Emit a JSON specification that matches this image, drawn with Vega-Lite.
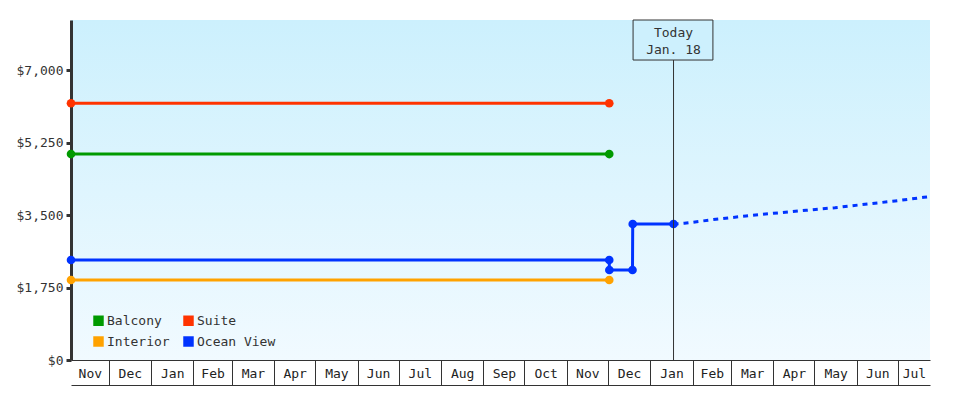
{
  "$schema": "https://vega.github.io/schema/vega-lite/v6.json",
  "width": 859,
  "height": 340,
  "autosize": {"type": "none"},
  "padding": {"left": 71, "top": 20, "right": 50, "bottom": 40},
  "background": "#ffffff",
  "config": {
    "view": {
      "stroke": null,
      "fill": {"gradient": "linear", "x1": 0, "y1": 0, "x2": 0, "y2": 1, "stops": [{"offset": 0, "color": "#ccf0fd"}, {"offset": 1, "color": "#f1faff"}]}
    },
    "font": "DejaVu Sans Mono",
    "axis": {"labelFont": "DejaVu Sans Mono", "labelFontSize": 13, "labelColor": "#333333", "grid": false},
    "legend": {
      "title": null, "orient": "none", "legendX": 21, "legendY": 294,
      "columns": 2, "direction": "horizontal", "padding": 0,
      "symbolType": "square", "symbolSize": 110, "symbolStrokeWidth": 0, "symbolOpacity": 1,
      "labelFont": "DejaVu Sans Mono", "labelFontSize": 13, "labelColor": "#333333", "labelOffset": 2,
      "rowPadding": 7, "columnPadding": 12, "symbolOffset": 0
    }
  },
  "datasets": {
    "prices": [
      {"series": "Suite", "date": "2017-11-03T12:00:00Z", "price": 6198},
      {"series": "Suite", "date": "2018-12-02T00:00:00Z", "price": 6198},
      {"series": "Balcony", "date": "2017-11-03T12:00:00Z", "price": 4971},
      {"series": "Balcony", "date": "2018-12-02T00:00:00Z", "price": 4971},
      {"series": "Interior", "date": "2017-11-03T12:00:00Z", "price": 1931},
      {"series": "Interior", "date": "2018-12-02T00:00:00Z", "price": 1931},
      {"series": "Ocean View", "date": "2017-11-03T12:00:00Z", "price": 2413},
      {"series": "Ocean View", "date": "2018-12-02T00:00:00Z", "price": 2413},
      {"series": "Ocean View", "date": "2018-12-02T02:00:00Z", "price": 2172},
      {"series": "Ocean View", "date": "2018-12-19T00:00:00Z", "price": 2172},
      {"series": "Ocean View", "date": "2018-12-19T04:00:00Z", "price": 3283},
      {"series": "Ocean View", "date": "2019-01-18T00:00:00Z", "price": 3283}
    ],
    "projection": [
      {"date": "2019-01-18T00:00:00Z", "price": 3283},
      {"date": "2019-01-26T00:00:00Z", "price": 3300},
      {"date": "2019-02-18T00:00:00Z", "price": 3397},
      {"date": "2019-03-12T00:00:00Z", "price": 3476},
      {"date": "2019-04-01T00:00:00Z", "price": 3541},
      {"date": "2019-04-25T00:00:00Z", "price": 3614},
      {"date": "2019-05-16T00:00:00Z", "price": 3676},
      {"date": "2019-06-07T00:00:00Z", "price": 3759},
      {"date": "2019-06-29T00:00:00Z", "price": 3838},
      {"date": "2019-07-20T00:00:00Z", "price": 3928},
      {"date": "2019-07-24T12:00:00Z", "price": 3945}
    ],
    "today": [
      {"date": "2019-01-18T00:00:00Z", "label": "Today\nJan. 18", "boxStart": "2018-12-19T10:00:00Z", "boxEnd": "2019-02-15T19:00:00Z"}
    ]
  },
  "resolve": {"axis": {"x": "independent"}},
  "layer": [
    {
      "data": {"name": "prices"},
      "mark": {"type": "line", "strokeWidth": 3},
      "encoding": {
        "x": {
          "field": "date", "type": "temporal", "title": null,
          "scale": {"type": "utc", "domain": [{"year": 2017, "month": 11, "date": 3, "hours": 12, "utc": true}, {"year": 2019, "month": 7, "date": 24, "hours": 12, "utc": true}]},
          "axis": {
            "orient": "bottom", "labels": false, "ticks": true, "tickSize": 25, "tickWidth": 1, "tickColor": "#333333",
            "domain": true, "domainColor": "#333333", "domainWidth": 1,
            "values": [
              {"year": 2017, "month": 12, "date": 1, "utc": true},
              {"year": 2018, "month": 1, "date": 1, "utc": true},
              {"year": 2018, "month": 2, "date": 1, "utc": true},
              {"year": 2018, "month": 3, "date": 1, "utc": true},
              {"year": 2018, "month": 4, "date": 1, "utc": true},
              {"year": 2018, "month": 5, "date": 1, "utc": true},
              {"year": 2018, "month": 6, "date": 1, "utc": true},
              {"year": 2018, "month": 7, "date": 1, "utc": true},
              {"year": 2018, "month": 8, "date": 1, "utc": true},
              {"year": 2018, "month": 9, "date": 1, "utc": true},
              {"year": 2018, "month": 10, "date": 1, "utc": true},
              {"year": 2018, "month": 11, "date": 1, "utc": true},
              {"year": 2018, "month": 12, "date": 1, "utc": true},
              {"year": 2019, "month": 1, "date": 1, "utc": true},
              {"year": 2019, "month": 2, "date": 1, "utc": true},
              {"year": 2019, "month": 3, "date": 1, "utc": true},
              {"year": 2019, "month": 4, "date": 1, "utc": true},
              {"year": 2019, "month": 5, "date": 1, "utc": true},
              {"year": 2019, "month": 6, "date": 1, "utc": true},
              {"year": 2019, "month": 7, "date": 1, "utc": true}
            ]
          }
        },
        "y": {
          "field": "price", "type": "quantitative", "title": null,
          "scale": {"domain": [0, 8207], "nice": false, "zero": true},
          "axis": {
            "values": [0, 1750, 3500, 5250, 7000], "format": "$,.0f",
            "domainColor": "#333333", "domainWidth": 3,
            "tickColor": "#333333", "tickWidth": 3, "tickSize": 5,
            "labelPadding": 3, "labelColor": "#333333"
          }
        },
        "color": {
          "field": "series", "type": "nominal",
          "scale": {"domain": ["Balcony", "Suite", "Interior", "Ocean View"], "range": ["#009a00", "#ff3300", "#ffa200", "#0033ff"]}
        },
        "detail": {"field": "series"}
      }
    },
    {
      "data": {"name": "prices"},
      "mark": {"type": "point", "filled": true, "shape": "circle", "size": 75, "opacity": 1},
      "encoding": {
        "x": {
          "field": "date", "type": "temporal", "title": null,
          "scale": {"type": "utc"},
          "axis": {
            "orient": "bottom", "ticks": false, "tickSize": 0, "domain": false,
            "format": "%b", "labelBaseline": "middle", "labelPadding": 13, "labelAlign": "center",
            "labelFlush": false, "labelOverlap": false, "labelColor": "#222222",
            "values": [
              {"year": 2017, "month": 11, "date": 17, "hours": 6, "utc": true},
              {"year": 2017, "month": 12, "date": 16, "hours": 12, "utc": true},
              {"year": 2018, "month": 1, "date": 16, "hours": 12, "utc": true},
              {"year": 2018, "month": 2, "date": 15, "utc": true},
              {"year": 2018, "month": 3, "date": 16, "hours": 12, "utc": true},
              {"year": 2018, "month": 4, "date": 16, "utc": true},
              {"year": 2018, "month": 5, "date": 16, "hours": 12, "utc": true},
              {"year": 2018, "month": 6, "date": 16, "utc": true},
              {"year": 2018, "month": 7, "date": 16, "hours": 12, "utc": true},
              {"year": 2018, "month": 8, "date": 16, "hours": 12, "utc": true},
              {"year": 2018, "month": 9, "date": 16, "utc": true},
              {"year": 2018, "month": 10, "date": 16, "hours": 12, "utc": true},
              {"year": 2018, "month": 11, "date": 16, "utc": true},
              {"year": 2018, "month": 12, "date": 16, "hours": 12, "utc": true},
              {"year": 2019, "month": 1, "date": 16, "hours": 12, "utc": true},
              {"year": 2019, "month": 2, "date": 15, "utc": true},
              {"year": 2019, "month": 3, "date": 16, "hours": 12, "utc": true},
              {"year": 2019, "month": 4, "date": 16, "utc": true},
              {"year": 2019, "month": 5, "date": 16, "hours": 12, "utc": true},
              {"year": 2019, "month": 6, "date": 16, "utc": true},
              {"year": 2019, "month": 7, "date": 12, "hours": 18, "utc": true}
            ]
          }
        },
        "y": {"field": "price", "type": "quantitative", "title": null},
        "color": {
          "field": "series", "type": "nominal",
          "scale": {"domain": ["Balcony", "Suite", "Interior", "Ocean View"], "range": ["#009a00", "#ff3300", "#ffa200", "#0033ff"]}
        }
      }
    },
    {
      "data": {"name": "projection"},
      "mark": {"type": "line", "strokeWidth": 3, "strokeDash": [5, 5], "color": "#0033ff"},
      "encoding": {
        "x": {
          "field": "date", "type": "temporal", "title": null,
          "scale": {"type": "utc"},
          "axis": {"orient": "bottom", "offset": 25, "labels": false, "ticks": false, "domain": true, "domainColor": "#333333", "domainWidth": 1}
        },
        "y": {"field": "price", "type": "quantitative", "title": null}
      }
    },
    {
      "data": {"name": "today"},
      "mark": {"type": "rule", "color": "#333333", "strokeWidth": 1},
      "encoding": {
        "x": {"field": "date", "type": "temporal", "scale": {"type": "utc"}, "axis": null},
        "y": {"datum": 7241, "type": "quantitative", "title": null},
        "y2": {"datum": 0}
      }
    },
    {
      "data": {"name": "today"},
      "mark": {"type": "rect", "fill": "#cdf0fd", "stroke": "#333333", "strokeWidth": 1},
      "encoding": {
        "x": {"field": "boxStart", "type": "temporal", "scale": {"type": "utc"}, "axis": null},
        "x2": {"field": "boxEnd"},
        "y": {"datum": 8207, "type": "quantitative", "title": null},
        "y2": {"datum": 7241}
      }
    },
    {
      "data": {"name": "today"},
      "mark": {"type": "text", "lineBreak": "\n", "lineHeight": 17, "font": "DejaVu Sans Mono", "fontSize": 13, "color": "#333333", "align": "center", "baseline": "middle"},
      "encoding": {
        "x": {"field": "date", "type": "temporal", "scale": {"type": "utc"}, "axis": null},
        "y": {"datum": 7893, "type": "quantitative", "title": null},
        "text": {"field": "label"}
      }
    }
  ]
}
